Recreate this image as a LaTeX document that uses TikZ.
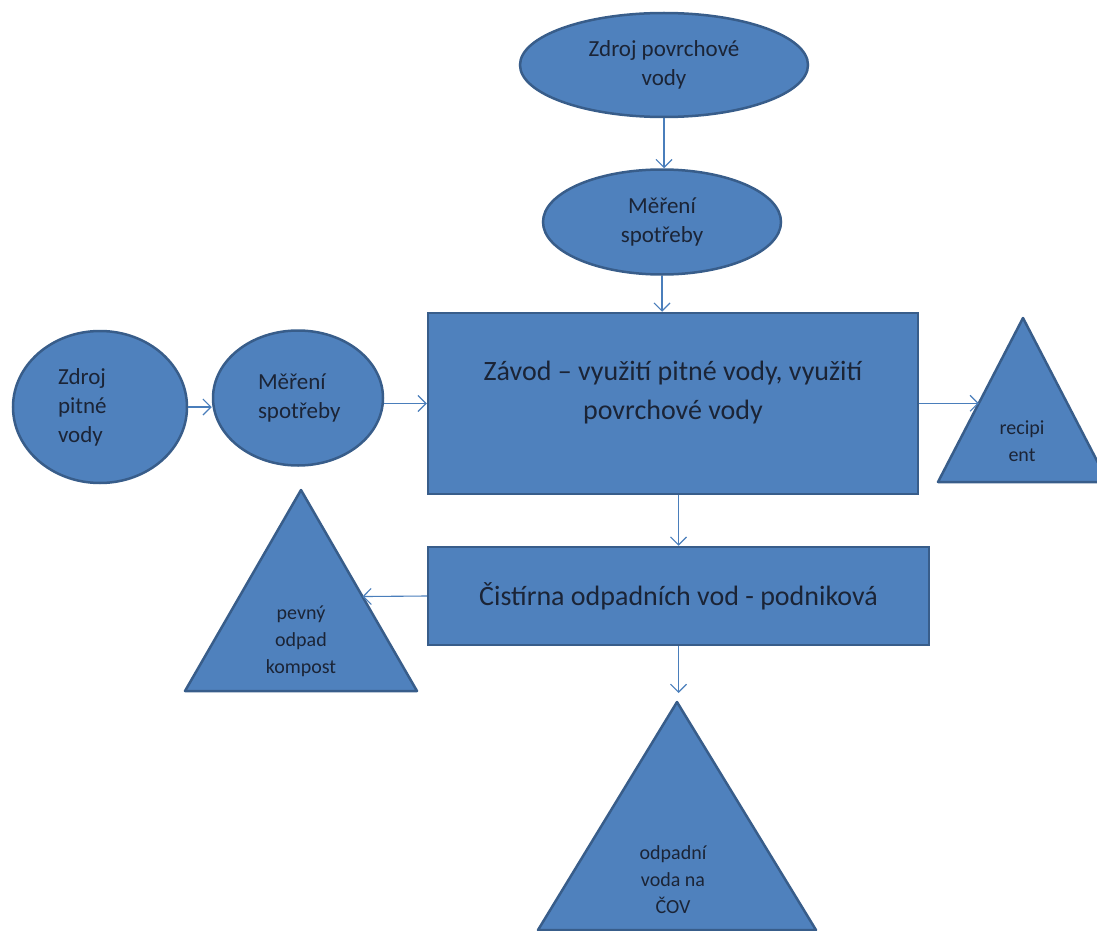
\documentclass[tikz,border=0pt]{standalone}
\usepackage{fontspec}
\setmainfont{Carlito}
\usetikzlibrary{shapes.geometric,arrows.meta,calc}
\definecolor{boxfill}{HTML}{4F81BD}
\definecolor{boxline}{HTML}{385D8A}
\definecolor{flowline}{HTML}{4A7EBB}
\definecolor{boxtext}{HTML}{1B2436}

\begin{document}
\begin{tikzpicture}[x=1pt,y=-1pt,
    shapebox/.style={fill=boxfill, draw=boxline, line width=2.5pt, text=boxtext, align=center},
    oval/.style={shapebox, ellipse, inner sep=0pt, font=\fontsize{23}{29}\selectfont},
    block/.style={shapebox, rectangle, inner sep=0pt, font=\fontsize{28}{39}\selectfont},
    tribox/.style={fill=boxfill, draw=boxline, line width=2.5pt, line join=round},
    tritext/.style={text=boxtext, align=center, font=\fontsize{20}{27}\selectfont},
    flow/.style={draw=flowline, line width=1.1pt, -{Straight Barb[length=8pt,width=16pt]}}]
\useasboundingbox (0,0) rectangle (1097,931);

% Sources and meters
\node[oval, minimum width=288pt, minimum height=104pt] (srcSurface) at (664,65) {Zdroj povrchové\\vody};
\node[oval, minimum width=238pt, minimum height=105pt] (meterSurface) at (662,222) {Měření\\spotřeby};
\node[oval, align=left, text width=84pt, minimum width=174pt, minimum height=152pt] (srcDrink) at (100,407) {Zdroj\\pitné\\vody};
\node[oval, align=left, text width=80pt, minimum width=170pt, minimum height=135pt] (meterDrink) at (298,398) {Měření\\spotřeby};

% Plant and treatment
\node[block, text depth=26pt, minimum width=490pt, minimum height=181pt] (plant) at (673,403.5) {Závod – využití pitné vody, využití\\povrchové vody};
\node[block, minimum width=501pt, minimum height=98pt] (wwtp) at (678.5,596) {Čistírna odpadních vod - podniková};

% Outputs
\coordinate (recipTop) at (1023,318);
\coordinate (recipLeft) at (938,482);
\coordinate (recipRight) at (1108,482);
\draw[tribox] (recipTop) -- (recipLeft) -- (recipRight) -- cycle;
\coordinate (recipIn) at ($(recipTop)!0.52!(recipLeft)$);
\node[tritext] (recipText) at (1022,441) {recipi\\ent};

\coordinate (solidTop) at (301,490);
\coordinate (solidLeft) at (185,691);
\coordinate (solidRight) at (417,691);
\draw[tribox] (solidTop) -- (solidLeft) -- (solidRight) -- cycle;
\coordinate (solidIn) at ($(solidTop)!0.53!(solidRight)$);
\node[tritext] (solidText) at (301,641) {pevný\\odpad\\kompost};

\coordinate (cowTop) at (677,702);
\coordinate (cowLeft) at (538,930);
\coordinate (cowRight) at (816,930);
\draw[tribox] (cowTop) -- (cowLeft) -- (cowRight) -- cycle;
\coordinate (cowIn) at (677,693);
\node[tritext] (cowText) at (673,880) {odpadní\\voda na\\ČOV};

% Flows
\draw[flow] (srcSurface.south) -- (srcSurface.south |- meterSurface.north);
\draw[flow] (meterSurface.south) -- (meterSurface.south |- plant.north);
\draw[flow] (srcDrink.east) -- (srcDrink.east -| meterDrink.west);
\draw[flow] (plant.west -| meterDrink.east) -- (plant.west);
\draw[flow] (plant.east |- recipIn) -- (recipIn);
\draw[flow] (wwtp.north |- plant.south) -- (wwtp.north);
\draw[flow] (wwtp.west) -- (solidIn);
\draw[flow] (wwtp.south) -- (wwtp.south |- cowIn);
\end{tikzpicture}
\end{document}
